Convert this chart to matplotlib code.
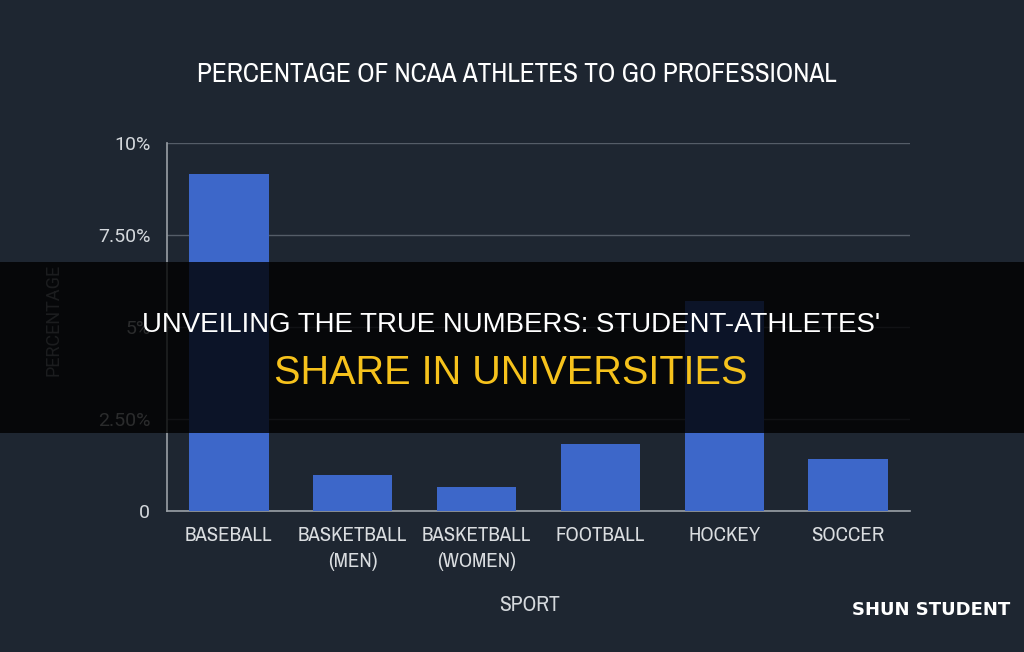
import matplotlib
matplotlib.use("Agg")
import matplotlib.pyplot as plt
from matplotlib.patches import Rectangle
from matplotlib.ticker import FixedLocator
from matplotlib.font_manager import FontProperties, fontManager

sports = ["BASEBALL", "BASKETBALL\n(MEN)", "BASKETBALL\n(WOMEN)", "FOOTBALL", "HOCKEY", "SOCCER"]
pct = [9.15, 0.97, 0.66, 1.82, 5.7, 1.4]
yticks = [0, 2.5, 5, 7.5, 10]
ytick_labels = ["0", "2.50%", "5%", "7.50%", "10%"]

title = "PERCENTAGE OF NCAA ATHLETES TO GO PROFESSIONAL"
headline1 = "UNVEILING THE TRUE NUMBERS: STUDENT-ATHLETES'"
headline2 = "SHARE IN UNIVERSITIES"


def upright(f):
    return f.style == "normal" and f.weight in (400, "normal", "regular")


# look for a narrow face, fall back on DejaVu
narrow_file = None
for f in fontManager.ttflist:
    if "Narrow" in f.name and upright(f):
        narrow_file = f.fname
        break
if narrow_file is None:
    for f in fontManager.ttflist:
        if "condensed" in str(f.stretch) and upright(f) and "Mono" not in f.fname \
                and "Serif" not in f.fname:
            narrow_file = f.fname
            break


def nfont(size):
    if narrow_file:
        return FontProperties(fname=narrow_file, size=size)
    return FontProperties(family="DejaVu Sans", size=size)


arial = ["Liberation Sans", "DejaVu Sans"]
bg = "#1e2631"

fig = plt.figure(figsize=(10.24, 6.52), dpi=100, facecolor=bg)
ax = fig.add_axes([167/1024, 141/652, 743/1024, 368/652])
ax.set_facecolor(bg)

ax.bar(range(len(sports)), pct, width=0.64, color="#3d67c9", zorder=3)
ax.set_xlim(-0.5, len(sports) - 0.5)
ax.set_ylim(0, 10)
ax.yaxis.set_major_locator(FixedLocator(yticks))
ax.set_yticklabels(ytick_labels, fontsize=14, color="#d4d8dc", family=["Roboto", "DejaVu Sans"])
ax.set_xticks(range(len(sports)))
ax.set_xticklabels(sports, color="#dadde0", linespacing=1.45)
for lab in ax.get_xticklabels():
    lab.set_fontproperties(nfont(15))
ax.tick_params(length=0, pad=12)
ax.tick_params(axis="x", pad=11)
ax.grid(axis="y", color="#555d68", linewidth=1, zorder=0)
for s in ["top", "right"]:
    ax.spines[s].set_visible(False)
for s in ["left", "bottom"]:
    ax.spines[s].set_color("#9aa0a6")
    ax.spines[s].set_linewidth(1.2)

fig.text(53/1024, 1 - 320/652, "PERCENTAGE", rotation=90, ha="center", va="center",
         fontsize=13, color="#8a9098", family=["Roboto", "DejaVu Sans"])
fig.text(530/1024, 1 - 605/652, "SPORT", ha="center", va="center",
         color="#d4d8dc", fontproperties=nfont(15.5))
t_title = fig.text(517/1024, 1 - 75/652, title, ha="center", va="center",
                   color="white", fontproperties=nfont(27))

# dark headline band over the chart
fig.patches.append(Rectangle((0, (652 - 433)/652), 1, 171/652, transform=fig.transFigure,
                             facecolor="black", alpha=0.8, edgecolor="none", zorder=5))
t_h1 = fig.text(511/1024, 1 - 325/652, headline1, ha="center", va="center",
                color="white", fontsize=20, family=arial, zorder=6)
t_h2 = fig.text(511/1024, 1 - 373/652, headline2, ha="center", va="center",
                color="#f6c21c", fontsize=27, family=arial, zorder=6)

fig.text(931/1024, 1 - 610/652, "SHUN STUDENT", ha="center", va="center",
         fontsize=13, color="white", fontweight="bold", family="DejaVu Sans")

# size the long texts so they are as wide as in the picture
fig.canvas.draw()
r = fig.canvas.get_renderer()
for t, target in [(t_title, 641), (t_h1, 737), (t_h2, 473)]:
    w = t.get_window_extent(r).width
    t.set_fontsize(min(t.get_fontsize() * target / w, 36))

fig.savefig("out.png", dpi=100, facecolor=bg)
